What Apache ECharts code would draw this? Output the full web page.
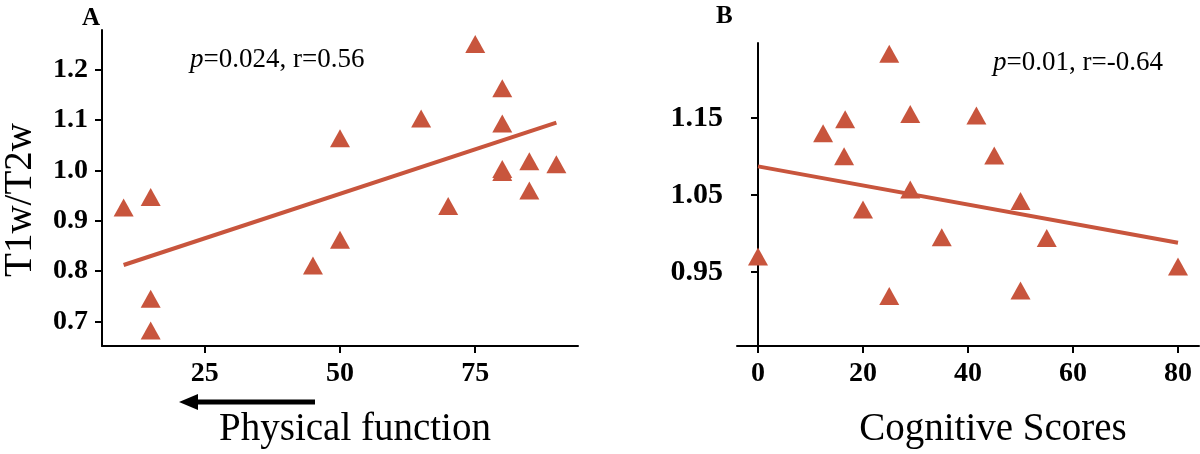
<!DOCTYPE html>
<html>
<head>
	<meta charset="utf-8">
	<script src="https://cdn.jsdelivr.net/npm/echarts@6/dist/echarts.min.js"></script>
	<title>T1w/T2w</title>
	<style>
		html, body { margin: 0; padding: 0; background: #fff; }
	</style>
</head>
<body>
	<div id="main" style="width: 1200px;height:454px;"></div>

	<script type="text/javascript">
	    // panel A: physical function vs T1w/T2w
	    var physA = [10, 15, 15, 15, 45, 50, 50, 65, 70, 75, 80, 80, 80, 80, 85, 85, 90];
	    var ratioA = [0.926, 0.947, 0.745, 0.682, 0.811, 0.862, 1.064, 1.103, 0.929, 1.251, 1.163, 1.093, 1.003, 0.997, 1.018, 0.960, 1.012];
	    var fitA = [[10, 0.812], [90, 1.095]];
	    var xTicksA = [25, 50, 75];
	    var yTicksA = [0.7, 0.8, 0.9, 1.0, 1.1, 1.2];

	    // panel B: cognitive scores vs T1w/T2w
	    var cogB = [0, 12.4, 16.6, 16.4, 20, 25, 25, 29, 29, 35, 41.6, 45, 50, 50, 55, 80];
	    var ratioB = [0.970, 1.130, 1.148, 1.100, 1.031, 1.233, 0.919, 1.155, 1.057, 0.995, 1.153, 1.101, 1.042, 0.926, 0.994, 0.957];
	    var fitB = [[0, 1.087], [80, 0.988]];
	    var xTicksB = [0, 20, 40, 60, 80];
	    var yTicksB = [0.95, 1.05, 1.15];

	    var red = '#C8553D';
	    var serif = 'Liberation Serif';

	    function pairs(xs, ys) {
	        var out = [];
	        for (var i = 0; i < xs.length; i++) out.push([xs[i], ys[i]]);
	        return out;
	    }

	    function axisBase(ticks, digits, margin, size) {
	        return {
	            axisLine: { show: true, lineStyle: { color: '#000', width: 2 } },
	            axisTick: { show: true, length: 7, customValues: ticks, lineStyle: { color: '#000', width: 2 } },
	            axisLabel: {
	                customValues: ticks,
	                margin: margin,
	                color: '#000',
	                fontFamily: serif,
	                fontWeight: 'bold',
	                fontSize: size,
	                formatter: function (v) { return Number(v).toFixed(digits); }
	            },
	            splitLine: { show: false }
	        };
	    }

	    function nameStyle(pad) {
	        return { color: '#000', fontFamily: serif, fontSize: 39, padding: pad };
	    }

	    var myChart = echarts.init(document.getElementById('main'));

	    var option = {
	        backgroundColor: '#fff',
	        animation: false,
	        grid: [
	            { left: 101, width: 477, top: 30, height: 321 },
	            { left: 737, width: 462, top: 43, height: 311 }
	        ],
	        xAxis: [
	            Object.assign(axisBase(xTicksA, 0, 14, 28), {
	                type: 'value', gridIndex: 0, min: 6, max: 94,
	                name: 'Physical function', nameLocation: 'middle', nameGap: 64,
	                nameTextStyle: nameStyle([0, 0, 0, 30])
	            }),
	            Object.assign(axisBase(xTicksB, 0, 14, 28), {
	                type: 'value', gridIndex: 1, min: -4, max: 84,
	                name: 'Cognitive Scores', nameLocation: 'middle', nameGap: 64,
	                nameTextStyle: nameStyle([0, 0, 0, 50])
	            })
	        ],
	        yAxis: [
	            Object.assign(axisBase(yTicksA, 1, 14, 28), {
	                type: 'value', gridIndex: 0, min: 0.651, max: 1.279,
	                name: 'T1w/T2w', nameLocation: 'middle', nameGap: 62,
	                nameTextStyle: nameStyle([0, 24, 0, 0])
	            }),
	            Object.assign(axisBase(yTicksB, 2, 14, 30), {
	                type: 'value', gridIndex: 1, min: 0.854, max: 1.247
	            })
	        ],
	        series: [
	            {
	                type: 'line', xAxisIndex: 0, yAxisIndex: 0,
	                data: fitA, symbol: 'none', z: 1,
	                lineStyle: { color: red, width: 4 }
	            },
	            {
	                type: 'scatter', xAxisIndex: 0, yAxisIndex: 0,
	                data: pairs(physA, ratioA), symbol: 'triangle', symbolSize: [20, 18], z: 2,
	                itemStyle: { color: red, opacity: 1 }
	            },
	            {
	                type: 'line', xAxisIndex: 1, yAxisIndex: 1,
	                data: fitB, symbol: 'none', z: 1,
	                lineStyle: { color: red, width: 4 }
	            },
	            {
	                type: 'scatter', xAxisIndex: 1, yAxisIndex: 1,
	                data: pairs(cogB, ratioB), symbol: 'triangle', symbolSize: [20, 18], z: 2,
	                itemStyle: { color: red, opacity: 1 }
	            }
	        ],
	        graphic: [
	            { type: 'text', left: 82, top: 6, style: { text: 'A', fontFamily: serif, fontWeight: 'bold', fontSize: 25, fill: '#000' } },
	            { type: 'text', left: 716, top: 4, style: { text: 'B', fontFamily: serif, fontWeight: 'bold', fontSize: 25, fill: '#000' } },
	            {
	                type: 'text', left: 190, top: 46,
	                style: {
	                    text: '{i|p}=0.024, r=0.56', fontFamily: serif, fontSize: 27, fill: '#000',
	                    rich: { i: { fontStyle: 'italic', fontFamily: serif, fontSize: 27 } }
	                }
	            },
	            {
	                type: 'text', left: 993, top: 49,
	                style: {
	                    text: '{i|p}=0.01, r=-0.64', fontFamily: serif, fontSize: 27, fill: '#000',
	                    rich: { i: { fontStyle: 'italic', fontFamily: serif, fontSize: 27 } }
	                }
	            },
	            // arrow under the x axis of panel A
	            { type: 'line', shape: { x1: 196, y1: 402, x2: 315, y2: 402 }, style: { stroke: '#000', lineWidth: 5 } },
	            { type: 'polygon', shape: { points: [[179, 402], [198, 394], [198, 410]] }, style: { fill: '#000' } }
	        ]
	    };

	    myChart.setOption(option);
	</script>
</body>
</html>
